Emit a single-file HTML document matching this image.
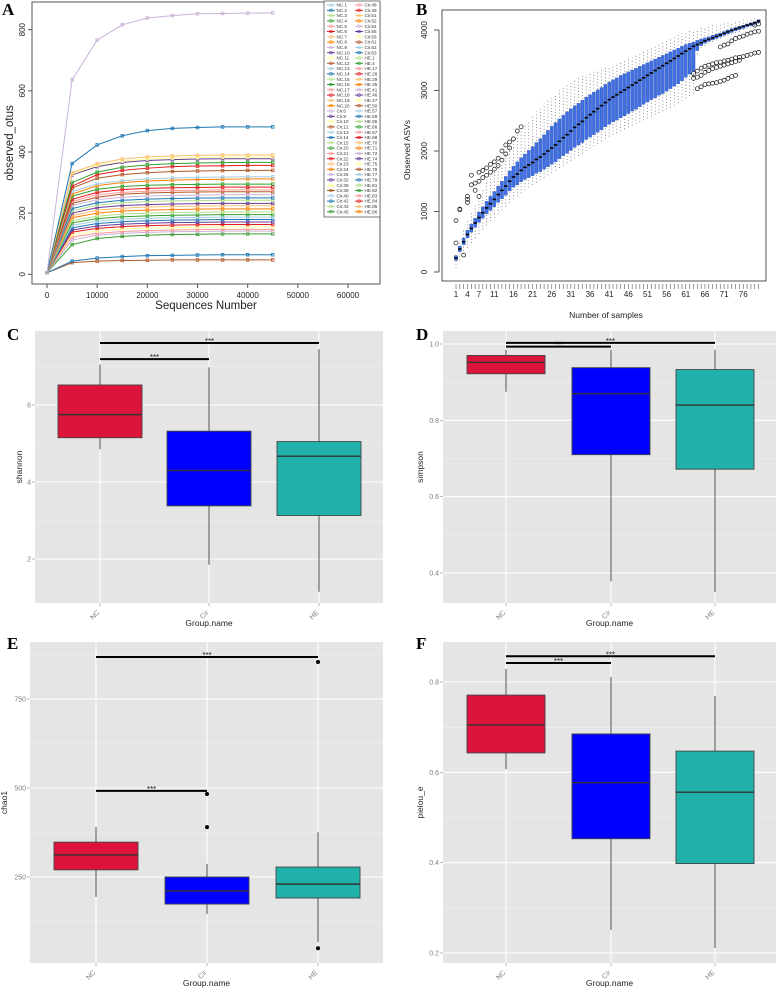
<!DOCTYPE html>
<html><head><meta charset="utf-8"><style>
html,body{margin:0;padding:0;background:#fff;}
svg{display:block;font-family:"Liberation Sans",sans-serif;}
</style></head><body>
<svg id="fig" width="778" height="991" viewBox="0 0 778 991" xmlns="http://www.w3.org/2000/svg">
<rect x="0" y="0" width="778" height="991" fill="#fff"/>
<g id="pA"></g>
<g id="pB"></g>
<g id="pC"></g>
<g id="pD"></g>
<g id="pE"></g>
<g id="pF"></g>
<text x="2" y="15" font-family="Liberation Serif" font-weight="bold" font-size="17">A</text>
<text x="416" y="15" font-family="Liberation Serif" font-weight="bold" font-size="17">B</text>
<text x="7" y="340" font-family="Liberation Serif" font-weight="bold" font-size="17">C</text>
<text x="416" y="340" font-family="Liberation Serif" font-weight="bold" font-size="17">D</text>
<text x="7" y="649" font-family="Liberation Serif" font-weight="bold" font-size="17">E</text>
<text x="416" y="649" font-family="Liberation Serif" font-weight="bold" font-size="17">F</text>
</svg>
<script>
// ---------- Panel A data ----------
const aSeqDepths=[0,5000,10000,15000,20000,25000,30000,35000,40000,45000];
const aXTicks=[0,10000,20000,30000,40000,50000,60000];
const aYTicks=[0,200,400,600,800];
const aColors=['#a6cee3','#1f78b4','#b2df8a','#33a02c','#fb9a99','#e31a1c','#fdbf6f','#ff7f00','#cab2d6','#6a3d9a','#ffff99','#b15928'];
const aLegendCol1=['NC.1','NC.2','NC.3','NC.4','NC.5','NC.6','NC.7','NC.8','NC.9','NC.10','NC.11','NC.12','NC.13','NC.14','NC.15','NC.16','NC.17','NC.18','NC.19','NC.20','Cir.5','Cir.8','Cir.10','Cir.12','Cir.13','Cir.14','Cir.15','Cir.20','Cir.21','Cir.22','Cir.23','Cir.24','Cir.25','Cir.32','Cir.36','Cir.38','Cir.40','Cir.42','Cir.43','Cir.45'];
const aLegendCol2=['Cir.48','Cir.49','Cir.51','Cir.52','Cir.54','Cir.55','Cir.56','Cir.61','Cir.62','Cir.63','HE.1','HE.4','HE.17','HE.26','HE.29','HE.35','HE.41','HE.46','HE.47','HE.50','HE.57','HE.59','HE.65','HE.66','HE.67','HE.68','HE.70','HE.71','HE.72','HE.74','HE.75','HE.76','HE.77','HE.79','HE.81','HE.82','HE.83','HE.84','HE.85','HE.86'];
const aSeriesColor=['#cab2d6','#1f78b4','#fdbf6f','#ffff99','#6a3d9a','#33a02c','#e31a1c','#b15928','#a6cee3','#ff7f00','#33a02c','#e31a1c','#fb9a99','#b15928','#cab2d6','#1f78b4','#b2df8a','#6a3d9a','#fdbf6f','#ff7f00','#b2df8a','#33a02c','#a6cee3','#1f78b4','#6a3d9a','#e31a1c','#ffff99','#fb9a99','#cab2d6','#33a02c','#1f78b4','#b15928'];
const aSeries=[
[5,636,766,816,838,846,852,853,854,855],
[5,362,423,453,470,477,480,482,482,482],
[5,332,362,377,384,387,389,390,390,390],
[5,328,356,370,377,380,382,383,383,383],
[5,325,352,366,372,375,377,378,378,378],
[5,300,334,350,358,362,364,365,366,366],
[5,288,326,340,347,352,354,355,356,356],
[5,282,314,326,332,336,338,339,340,340],
[5,270,296,306,312,315,317,318,319,319],
[5,262,290,300,305,308,310,311,312,312],
[5,255,278,287,291,293,294,295,295,295],
[5,245,268,277,281,283,284,285,285,285],
[5,238,260,268,272,274,275,276,276,276],
[5,232,252,262,266,268,269,270,270,270],
[5,225,244,252,256,258,259,260,260,260],
[5,215,234,242,246,248,249,250,250,250],
[5,208,226,234,238,240,241,242,242,242],
[5,200,218,225,228,230,231,232,232,232],
[5,192,210,216,220,222,223,224,224,224],
[5,185,200,207,210,212,213,214,214,214],
[5,175,190,197,200,202,203,204,204,204],
[5,168,182,188,191,193,194,195,195,195],
[5,160,174,180,183,185,186,187,187,187],
[5,152,166,172,175,177,178,179,179,179],
[5,145,158,164,167,169,170,171,171,171],
[5,138,150,156,159,161,162,163,163,163],
[5,130,142,148,151,153,154,155,155,155],
[5,122,134,140,143,145,146,147,147,147],
[5,112,128,134,137,139,140,141,141,141],
[5,97,117,124,128,130,131,132,132,132],
[5,43,53,58,61,62,63,64,64,64],
[5,38,43,45,46,47,47,47,47,47]];

// ---------- Panel B data ----------
const bMed=[230,380,500,620,720,810,900,980,1060,1130,1200,1280,1350,1420,1500,1570,1620,1680,1730,1770,1810,1860,1900,1950,2000,2050,2100,2160,2220,2270,2330,2390,2440,2490,2550,2600,2650,2700,2750,2800,2850,2890,2930,2970,3010,3050,3090,3130,3170,3210,3250,3290,3330,3370,3410,3450,3490,3530,3570,3610,3650,3690,3730,3760,3790,3820,3845,3870,3895,3920,3945,3970,3995,4020,4040,4060,4080,4100,4120,4150];
const bQ1=[190,335,450,565,660,740,820,890,960,1020,1080,1150,1210,1270,1340,1400,1440,1490,1530,1560,1590,1630,1660,1700,1740,1780,1820,1870,1920,1960,2010,2060,2100,2140,2190,2230,2270,2310,2350,2400,2440,2480,2510,2550,2580,2620,2660,2690,2730,2770,2810,2850,2880,2920,2950,2990,3030,3070,3110,3160,3220,3270,3320,3660,3740,3780,3810,3835,3860,3885,3910,3935,3960,3985,4005,4025,4050,4070,4090,4120];
const bQ3=[270,430,560,690,790,890,990,1080,1170,1250,1330,1420,1500,1580,1670,1750,1820,1890,1950,2010,2070,2140,2200,2270,2340,2410,2470,2530,2590,2650,2700,2750,2790,2840,2890,2930,2970,3010,3050,3100,3140,3180,3210,3250,3280,3310,3340,3370,3400,3430,3460,3490,3520,3550,3580,3610,3640,3670,3700,3730,3760,3780,3800,3830,3850,3870,3890,3910,3930,3950,3975,4000,4020,4040,4060,4080,4100,4120,4140,4170];
const bLo=[60,200,300,400,480,560,630,700,770,840,900,960,1020,1080,1140,1200,1250,1300,1350,1400,1440,1480,1520,1560,1600,1640,1680,1720,1760,1800,1840,1880,1920,1960,2000,2040,2080,2120,2160,2200,2240,2270,2300,2330,2360,2390,2420,2450,2480,2510,2540,2570,2600,2630,2660,2690,2720,2750,2790,2830,2870,2910,2950,3600,3700,3740,3770,3800,3830,3860,3880,3900,3930,3950,3970,4000,4020,4040,4070,4100];
const bHi=[320,520,700,860,1000,1130,1250,1370,1480,1590,1700,1800,1900,2000,2100,2190,2280,2360,2440,2510,2580,2650,2720,2780,2840,2900,2950,3000,3050,3100,3140,3180,3210,3240,3270,3300,3320,3340,3360,3380,3400,3420,3450,3480,3510,3540,3570,3600,3630,3660,3690,3720,3750,3780,3810,3840,3870,3900,3930,3950,3970,3990,4000,4010,4030,4050,4070,4090,4100,4110,4120,4130,4140,4150,4160,4170,4180,4190,4200,4200];
const bOutSample=[1,1,3,2,2,4,4,4,5,5,6,6,7,7,7,8,8,9,9,10,10,11,11,12,12,13,13,14,14,15,15,16,17,18,63,63,64,64,64,65,65,65,66,66,66,67,67,67,68,68,68,69,69,69,70,70,70,71,71,71,72,72,72,73,73,73,74,74,74,75,75,76,77,78,79,80,70,71,72,73,74,75,76,77,78,79,80,79,80];
const bOutValue=[850,480,280,1030,1040,1150,1200,1250,1440,1600,1350,1470,1650,1500,1250,1560,1680,1720,1600,1780,1650,1820,1700,1880,1760,2000,1850,2100,1950,2150,2050,2200,2330,2400,3200,3280,3030,3220,3320,3060,3250,3370,3100,3300,3400,3110,3330,3420,3120,3360,3440,3130,3380,3460,3150,3400,3470,3170,3420,3490,3200,3440,3500,3230,3460,3520,3250,3480,3540,3500,3550,3560,3580,3600,3620,3630,3720,3750,3770,3820,3860,3880,3900,3930,3950,3970,3980,4080,4100];
const bXLabels=[1,4,7,11,16,21,26,31,36,41,46,51,56,61,66,71,76];
const bYTicks=[0,1000,2000,3000,4000];

// ---------- Box panels data ----------
const groups=['NC','Cir','HE'];
const groupFills=['#dc143c','#0000ff','#20b2aa'];
const cLow=[4.85,1.85,1.15], cQ1=[5.15,3.38,3.13], cMed=[5.75,4.3,4.67], cQ3=[6.52,5.32,5.05], cHigh=[7.05,6.98,7.45];
const cSig=[7.19,7.61];
const cTicks=[2,4,6];
const dLow=[0.875,0.378,0.35], dQ1=[0.922,0.71,0.672], dMed=[0.952,0.87,0.84], dQ3=[0.97,0.938,0.933], dHigh=[0.985,0.985,0.985];
const dSig=[0.993,1.003];
const dTicks=[0.4,0.6,0.8,1.0];
const eLow=[194,146,67], eQ1=[270,174,191], eMed=[312,211,230], eQ3=[348,250,278], eHigh=[390,287,376];
const eOutGroup=[1,1,2,2], eOutValue=[390,483,50,854];
const eSig=[492,868];
const eTicks=[250,500,750];
const fLow=[0.607,0.251,0.211], fQ1=[0.643,0.453,0.398], fMed=[0.705,0.577,0.556], fQ3=[0.771,0.685,0.647], fHigh=[0.829,0.811,0.769];
const fSig=[0.842,0.857];
const fTicks=[0.2,0.4,0.6,0.8];

const NS='http://www.w3.org/2000/svg';
function mk(parent,tag,attrs,txt){const e=document.createElementNS(NS,tag);for(const k in attrs)e.setAttribute(k,attrs[k]);if(txt!==undefined)e.textContent=txt;parent.appendChild(e);return e;}

// ---------- Panel A ----------
(function(){
const g=document.getElementById('pA');
const x0=32,x1=380,y0=2,y1=284;
const xs=v=>47+v*(348-47)/60000;
const ys=v=>274.3-v*0.3058;
let fr=mk(g,'rect',{x:x0,y:y0,width:x1-x0,height:y1-y0,fill:'none',stroke:'#555','stroke-width':1});


aXTicks.forEach(t=>{mk(g,'line',{x1:xs(t),x2:xs(t),y1:y1,y2:y1+4,stroke:'#555'});
let l=mk(g,'text',{x:xs(t),y:298,'font-size':8,'text-anchor':'middle',fill:'#222'},String(t));

});
aYTicks.forEach(t=>{mk(g,'line',{x1:x0-4,x2:x0,y1:ys(t),y2:ys(t),stroke:'#555'});
let l=mk(g,'text',{x:25,y:ys(t),'font-size':8,'text-anchor':'middle',fill:'#222',transform:`rotate(-90 25 ${ys(t)})`},String(t));

});
let xt=mk(g,'text',{x:206,y:309,'font-size':11.5,'text-anchor':'middle',fill:'#222'},'Sequences Number');


let yt=mk(g,'text',{x:13,y:143,'font-size':11.5,'text-anchor':'middle',fill:'#222',transform:'rotate(-90 13 143)'},'observed_otus');


for(let s=aSeries.length-1;s>=0;s--){
const vals=aSeries[s],col=aSeriesColor[s];
const pts=vals.map((v,i)=>xs(aSeqDepths[i])+','+ys(v)).join(' ');
let pl=mk(g,'polyline',{points:pts,fill:'none',stroke:col,'stroke-width':1});


vals.forEach((v,i)=>{let m=mk(g,'rect',{x:xs(aSeqDepths[i])-1.3,y:ys(v)-1.3,width:2.6,height:2.6,fill:'none',stroke:col,'stroke-width':0.8});

});
}
const lg=mk(g,'g',{});


mk(lg,'rect',{x:324,y:1,width:56,height:216,fill:'#fff',stroke:'#555','stroke-width':0.8});
[aLegendCol1,aLegendCol2].forEach((col,ci)=>{col.forEach((nm,i)=>{
const cx=327+ci*28,cy=5+i*5.3,c=aColors[(ci*40+i)%12];
const e=mk(lg,'g',{});


mk(e,'line',{x1:cx,x2:cx+8,y1:cy,y2:cy,stroke:c,'stroke-width':1});
mk(e,'rect',{x:cx+2.8,y:cy-1.2,width:2.4,height:2.4,fill:'none',stroke:c,'stroke-width':0.6});
mk(e,'text',{x:cx+9.5,y:cy+1.6,'font-size':4.6,fill:'#333'},nm);
});});
})();

// ---------- Panel B ----------
(function(){
const g=document.getElementById('pB');
const x0=442,x1=766,y0=10,y1=281;
const xs=i=>456+(i-1)*3.83;
const ys=v=>272-v*(272-30)/4000;
let fr=mk(g,'rect',{x:x0,y:y0,width:x1-x0,height:y1-y0,fill:'none',stroke:'#555','stroke-width':1});


bYTicks.forEach(t=>{mk(g,'line',{x1:x0-8,x2:x0-3,y1:ys(t),y2:ys(t),stroke:'#555'});
let l=mk(g,'text',{x:427,y:ys(t),'font-size':8,'text-anchor':'middle',fill:'#222',transform:`rotate(-90 427 ${ys(t)})`},String(t));

});
mk(g,'line',{x1:x0-3,x2:x0-3,y1:ys(0),y2:ys(4000),stroke:'#555'});
for(let i=1;i<=bMed.length;i++){mk(g,'line',{x1:xs(i),x2:xs(i),y1:y1+3,y2:y1+8,stroke:'#555','stroke-width':0.6});}
bXLabels.forEach(t=>{let l=mk(g,'text',{x:xs(t),y:297,'font-size':8,'text-anchor':'middle',fill:'#222'},String(t));

});
let xt=mk(g,'text',{x:606,y:318,'font-size':8.5,'text-anchor':'middle',fill:'#222'},'Number of samples');


let yt=mk(g,'text',{x:410,y:150,'font-size':8.5,'text-anchor':'middle',fill:'#222',transform:'rotate(-90 410 150)'},'Observed ASVs');


for(let k=0;k<bMed.length;k++){
const i=k+1,x=xs(i);
const w=mk(g,'line',{x1:x,x2:x,y1:ys(bLo[k]),y2:ys(bHi[k]),stroke:'#444','stroke-width':0.7,'stroke-dasharray':'0.8 2.4'});


const b=mk(g,'rect',{x:x-1.6,y:ys(bQ3[k]),width:3.2,height:Math.max(1,ys(bQ1[k])-ys(bQ3[k])),fill:'#3f6fe0',stroke:'#2a4fb0','stroke-width':0.3});


const m=mk(g,'line',{x1:x-1.8,x2:x+1.8,y1:ys(bMed[k]),y2:ys(bMed[k]),stroke:'#000','stroke-width':1.6});


}
bOutSample.forEach((s,j)=>{const c=mk(g,'circle',{cx:xs(s),cy:ys(bOutValue[j]),r:2,fill:'none',stroke:'#111','stroke-width':0.7});

});
})();

// ---------- Box panels ----------
function boxPanel(id,o){
const g=document.getElementById(id);
const ys=v=>o.yRef0+(v-o.vRef0)*(o.yRef1-o.yRef0)/(o.vRef1-o.vRef0);
const bg=mk(g,'rect',{x:o.px0,y:o.py0,width:o.px1-o.px0,height:o.py1-o.py0,fill:'#e5e5e5'});


o.minor.forEach(t=>mk(g,'line',{x1:o.px0,x2:o.px1,y1:ys(t),y2:ys(t),stroke:'#f2f2f2','stroke-width':0.6}));
o.ticks.forEach(t=>{mk(g,'line',{x1:o.px0,x2:o.px1,y1:ys(t),y2:ys(t),stroke:'#fff','stroke-width':1.1});
mk(g,'line',{x1:o.px0-3,x2:o.px0,y1:ys(t),y2:ys(t),stroke:'#888','stroke-width':0.6});
let l=mk(g,'text',{x:o.px0-4,y:ys(t)+2.5,'font-size':7,'text-anchor':'end',fill:'#7f7f7f'},o.fmt(t));

});
o.gx.forEach(x=>mk(g,'line',{x1:x,x2:x,y1:o.py0,y2:o.py1,stroke:'#fff','stroke-width':1.1}));
groups.forEach((nm,i)=>{
const x=o.gx[i];
mk(g,'line',{x1:x,x2:x,y1:o.py1,y2:o.py1+3,stroke:'#888','stroke-width':0.6});
let l=mk(g,'text',{x:x,y:o.py1+10,'font-size':7,'text-anchor':'end',fill:'#7f7f7f',transform:`rotate(-45 ${x} ${o.py1+10})`},nm);


const w=mk(g,'line',{x1:x,x2:x,y1:ys(o.lo[i]),y2:ys(o.hi[i]),stroke:'#555','stroke-width':1});


const b=mk(g,'rect',{x:x-o.hw,y:ys(o.q3[i]),width:2*o.hw,height:ys(o.q1[i])-ys(o.q3[i]),fill:groupFills[i],stroke:'#444','stroke-width':0.9});


const m=mk(g,'line',{x1:x-o.hw,x2:x+o.hw,y1:ys(o.med[i]),y2:ys(o.med[i]),stroke:'#333','stroke-width':1.4});


});
(o.outG||[]).forEach((gi,j)=>{const c=mk(g,'circle',{cx:o.gx[gi],cy:ys(o.outV[j]),r:2,fill:'#000'});

});
o.sig.forEach((v,j)=>{const xe=o.gx[j+1],y=ys(v);
const s=mk(g,'line',{x1:o.gx[0],x2:xe,y1:y,y2:y,stroke:'#000','stroke-width':2});


const t=mk(g,'text',{x:(o.gx[0]+xe)/2,y:y+1,'font-size':8,'text-anchor':'middle',fill:'#222'},'***');

});
let xt=mk(g,'text',{x:(o.px0+o.px1)/2,y:o.py1+23,'font-size':8.5,'text-anchor':'middle',fill:'#222'},'Group.name');


const yc=(o.py0+o.py1)/2;
let yt=mk(g,'text',{x:o.ytx,y:yc,'font-size':8.5,'text-anchor':'middle',fill:'#222',transform:`rotate(-90 ${o.ytx} ${yc})`},o.ytitle);


}
boxPanel('pC',{px0:35,px1:383,py0:331,py1:603,yRef0:405,vRef0:6,yRef1:559,vRef1:2,ticks:cTicks,minor:[3,5,7],fmt:t=>String(t),gx:[100,209,319],hw:42,lo:cLow,q1:cQ1,med:cMed,q3:cQ3,hi:cHigh,sig:cSig,ytitle:'shannon',ytx:22});
boxPanel('pD',{px0:443,px1:776,py0:331,py1:603,yRef0:344,vRef0:1.0,yRef1:573,vRef1:0.4,ticks:dTicks,minor:[0.5,0.7,0.9],fmt:t=>t.toFixed(1),gx:[506,611,715],hw:39,lo:dLow,q1:dQ1,med:dMed,q3:dQ3,hi:dHigh,sig:dSig,ytitle:'simpson',ytx:423});
boxPanel('pE',{px0:30,px1:383,py0:642,py1:963,yRef0:877,vRef0:250,yRef1:699,vRef1:750,ticks:eTicks,minor:[125,375,625,875],fmt:t=>String(t),gx:[96,207,318],hw:42,lo:eLow,q1:eQ1,med:eMed,q3:eQ3,hi:eHigh,outG:eOutGroup,outV:eOutValue,sig:eSig,ytitle:'chao1',ytx:7});
boxPanel('pF',{px0:443,px1:776,py0:642,py1:963,yRef0:682,vRef0:0.8,yRef1:953,vRef1:0.2,ticks:fTicks,minor:[0.3,0.5,0.7],fmt:t=>t.toFixed(1),gx:[506,611,715],hw:39,lo:fLow,q1:fQ1,med:fMed,q3:fQ3,hi:fHigh,sig:fSig,ytitle:'pielou_e',ytx:423});
</script>
</body></html>
